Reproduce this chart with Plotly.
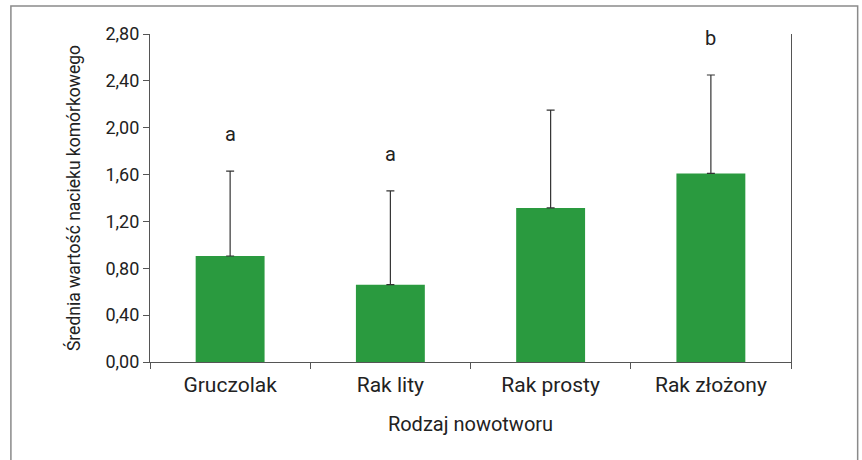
import plotly.graph_objects as go

categories = ["Gruczolak", "Rak lity", "Rak prosty", "Rak złożony"]
means = [0.905, 0.66, 1.315, 1.61]
sd_plus = [0.725, 0.80, 0.835, 0.84]
letters = ["a", "a", "", "b"]
y_ticks = [0.0, 0.4, 0.8, 1.2, 1.6, 2.0, 2.4, 2.8]

FONT = "Roboto, Arial, sans-serif"
GREEN = "#2a9a3f"
AXIS = "#555555"

fig = go.Figure(go.Bar(
    x=categories,
    y=means,
    width=0.43,
    marker_color=GREEN,
    marker_line_width=0,
    error_y=dict(type="data", array=sd_plus, arrayminus=[0] * len(means),
                 symmetric=False, color="#333333", thickness=1.2, width=4),
))

for cat, m, e, lab in zip(categories, means, sd_plus, letters):
    if lab:
        fig.add_annotation(x=cat, y=m + e, text=lab, showarrow=False,
                           yanchor="middle", yshift=37,
                           font=dict(size=20, color="#222222", family=FONT))

# outer frame (plot area spans x 150..791, y 34..362 on the page)
fig.add_shape(type="rect", xref="paper", yref="paper",
              x0=-0.217, x1=1.104, y0=-0.40, y1=1.085,
              line=dict(color="#8a8a8a", width=1.5), fillcolor="rgba(0,0,0,0)")

fig.update_layout(
    width=862, height=460,
    margin=dict(l=150, r=71, t=34, b=98),
    plot_bgcolor="white", paper_bgcolor="white",
    separators=",.",
    showlegend=False,
    font=dict(family=FONT, color="#222222"),
)
fig.update_xaxes(
    showline=True, linecolor=AXIS, linewidth=1.2,
    ticks="outside", tickson="boundaries", ticklen=6, tickcolor=AXIS,
    ticklabelstandoff=4,
    tickfont=dict(size=21, color="#222222"),
    title=dict(text="Rodzaj nowotworu", font=dict(size=20), standoff=20),
    showgrid=False,
)
fig.update_yaxes(
    range=[0, 2.8], tickvals=y_ticks, tickformat=".2f",
    showline=True, mirror=True, linecolor=AXIS, linewidth=1.2,
    ticks="outside", ticklen=6, tickcolor=AXIS,
    tickfont=dict(size=18, color="#222222"),
    title=dict(text="Średnia wartość nacieku komórkowego", font=dict(size=17.5), standoff=20),
    showgrid=False, zeroline=False,
)

fig.write_html("out.html", config={"displayModeBar": False},
               post_script="document.body.style.margin='0';")
